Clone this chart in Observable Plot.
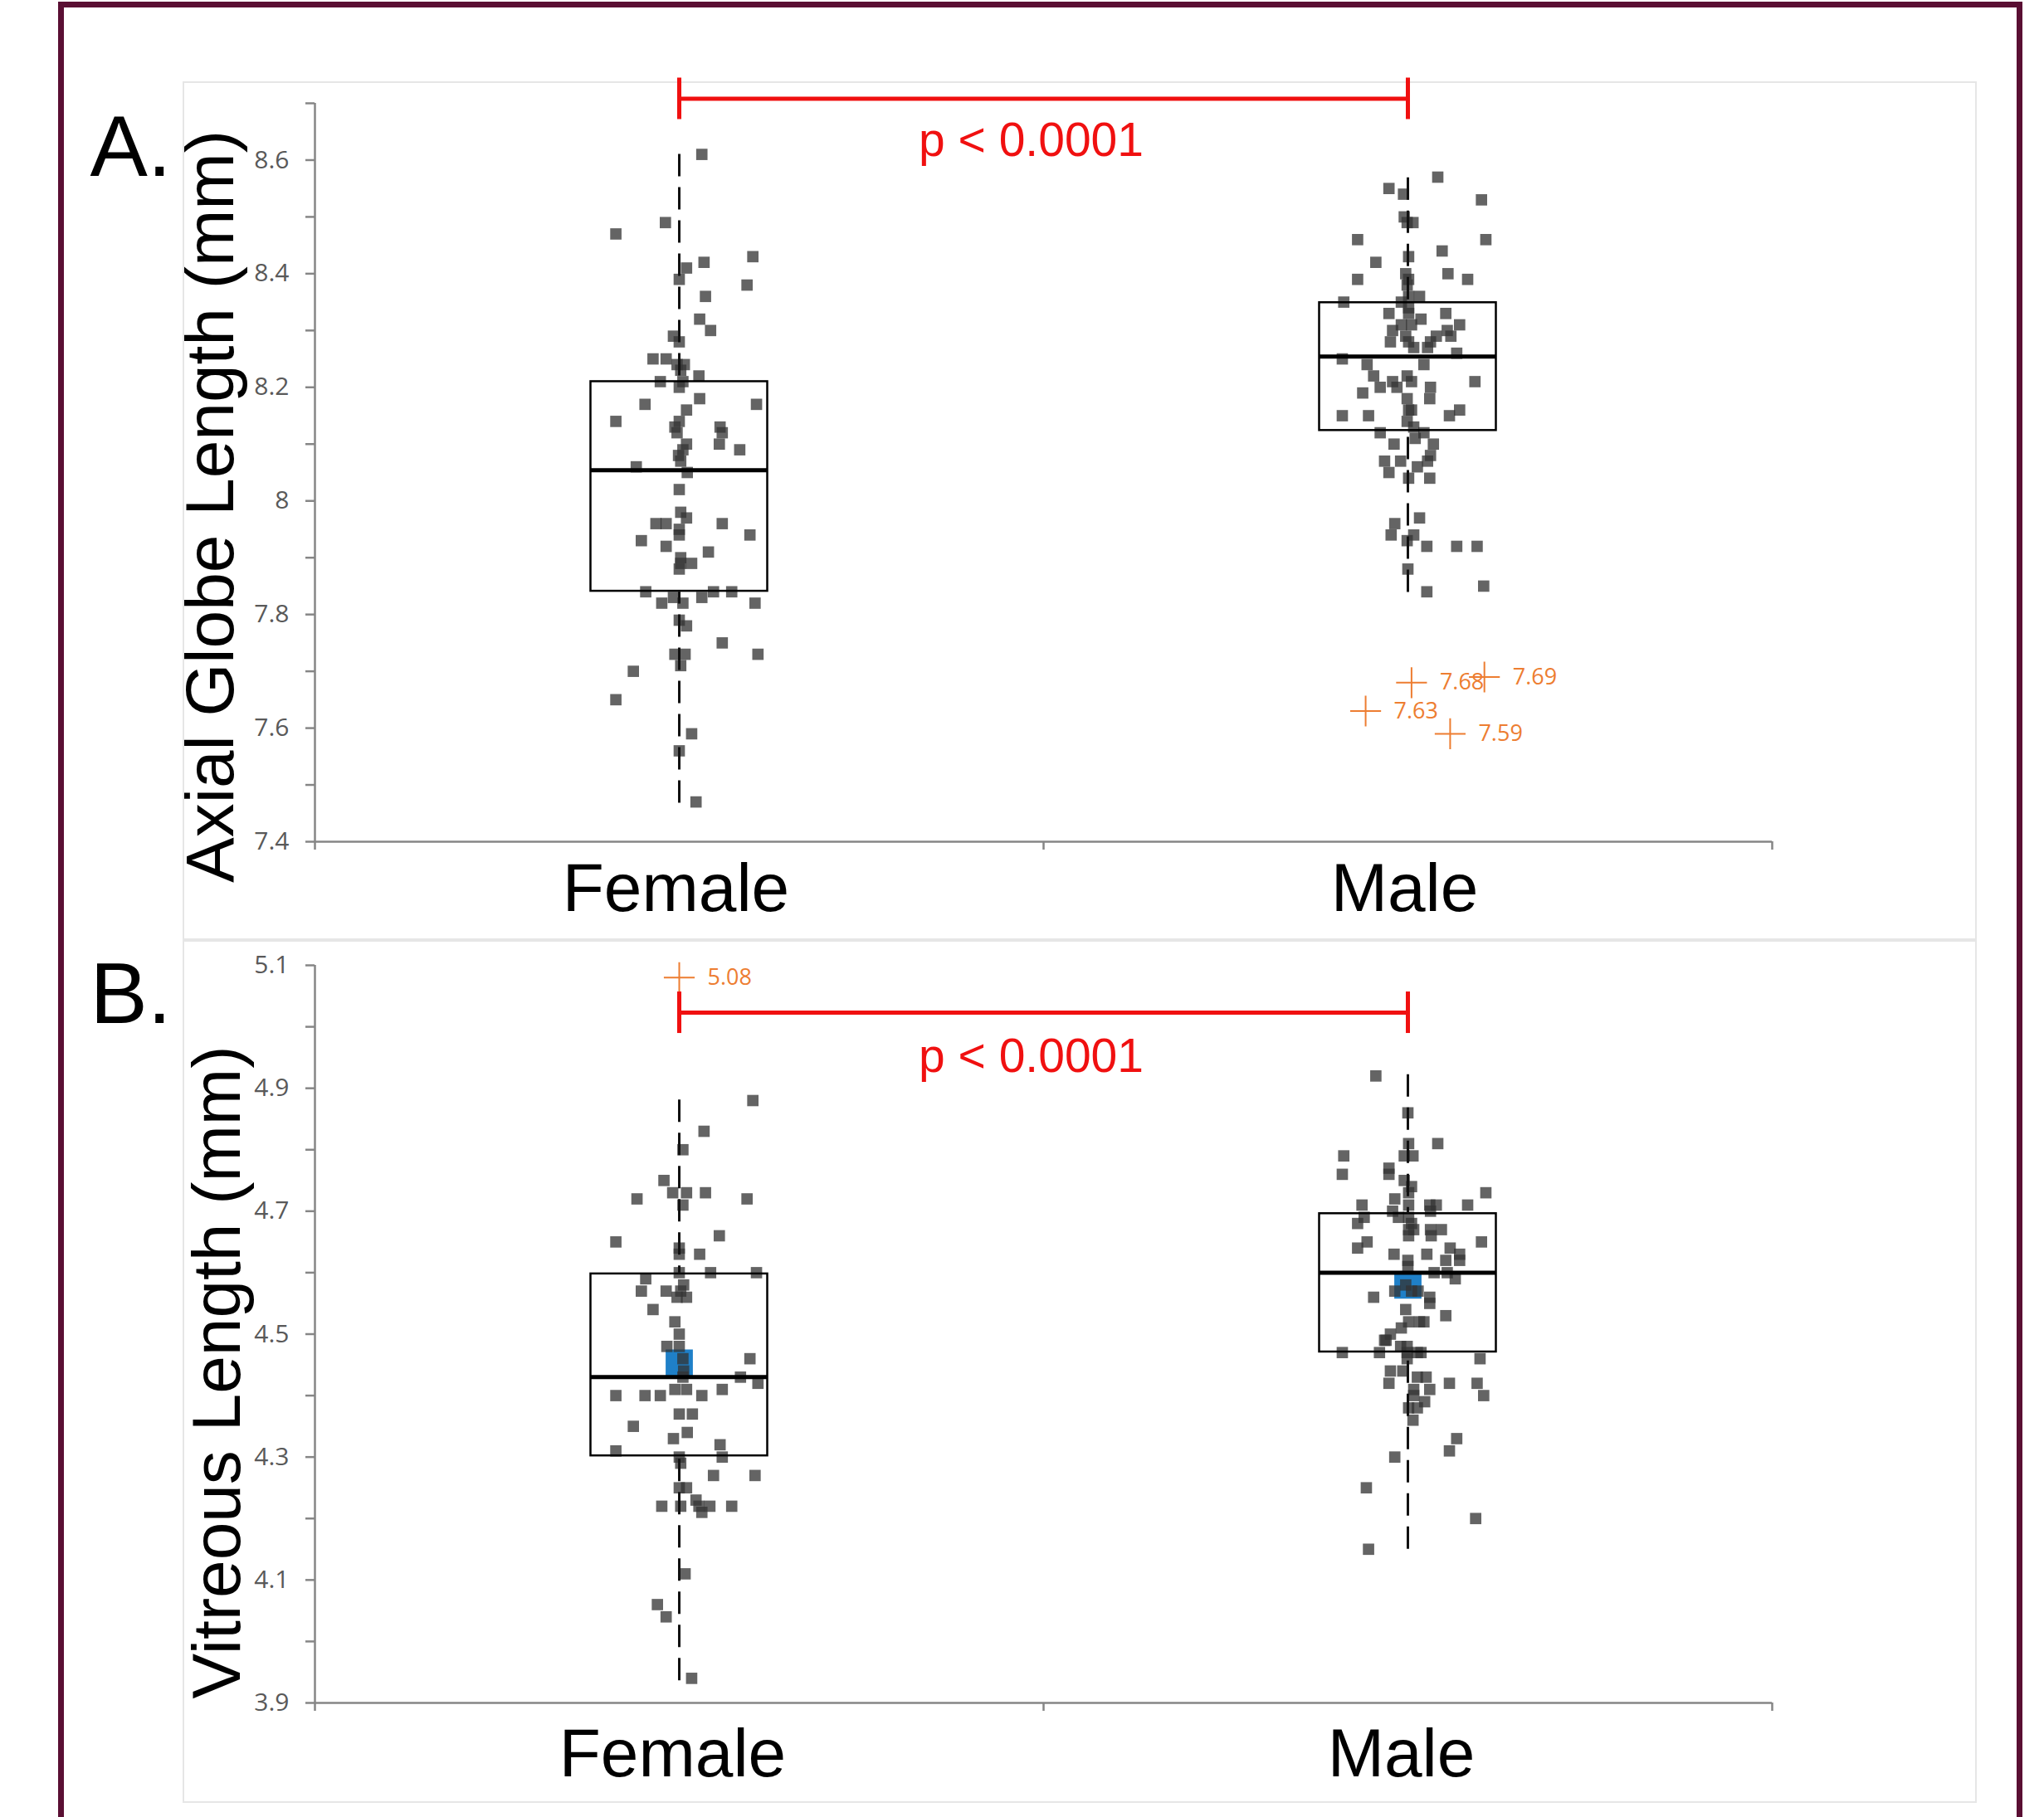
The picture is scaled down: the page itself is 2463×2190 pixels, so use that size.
<!DOCTYPE html>
<html>
<head>
<meta charset="utf-8">
<script src="https://cdn.jsdelivr.net/npm/d3@7"></script>
<script src="https://cdn.jsdelivr.net/npm/@observablehq/plot@0.6"></script>
<style>
html, body { margin: 0; padding: 0; background: #fff; }
#page { position: relative; width: 2463px; height: 2190px; overflow: hidden; background: #fff; }
#frame { position: absolute; left: 70px; top: 2px; width: 2353px; height: 2400px; border: 7px solid #5a0f33; pointer-events: none; }
.panelbox { position: absolute; left: 220px; width: 2162px; border: 2px solid #e6e6e6; box-sizing: border-box; pointer-events: none; }
.plotholder { position: absolute; left: 0; width: 2463px; }
.plotholder svg { display: block; }
</style>
</head>
<body>
<div id="page">
  <div class="panelbox" style="top:98px;height:1035px"></div>
  <div class="panelbox" style="top:1133px;height:1040px"></div>
  <div id="plotA" class="plotholder" style="top:0px"></div>
  <div id="plotB" class="plotholder" style="top:1133px"></div>
  <div id="frame"></div>
</div>
<script>
// ---------------- DATA ----------------
const categories = ["Female", "Male"];

// Panel A: Axial Globe Length (mm)
const titleA = "Axial Globe Length (mm)";
const panelLabelA = "A.";
const ticksA = [7.4, 7.5, 7.6, 7.7, 7.8, 7.9, 8.0, 8.1, 8.2, 8.3, 8.4, 8.5, 8.6, 8.7];
const tickLabelsA = [7.4, 7.6, 7.8, 8, 8.2, 8.4, 8.6];
const femaleAValues = [8.61,8.49,8.47,8.43,8.42,8.41,8.39,8.38,8.36,8.32,8.30,8.29,8.28,8.25,8.25,8.24,8.24,8.23,8.21,8.21,8.22,8.20,8.17,8.18,8.17,8.16,8.14,8.14,8.13,8.12,8.13,8.12,8.10,8.09,8.10,8.09,8.08,8.07,8.06,8.05,8.02,7.98,7.97,7.96,7.96,7.96,7.95,7.94,7.94,7.93,7.92,7.91,7.90,7.89,7.89,7.88,7.84,7.84,7.84,7.83,7.83,7.82,7.82,7.82,7.79,7.78,7.75,7.73,7.73,7.73,7.71,7.70,7.65,7.59,7.56,7.47];
// horizontal jitter, thousandths of a category band
const femaleAJitter = [31,-19,-87,101,34,10,0,93,36,28,43,-8,0,-36,-18,-3,7,2,-26,5,27,0,-47,28,106,10,-87,0,-6,-3,56,59,55,83,10,5,-1,2,-59,11,0,2,10,-32,-18,59,0,0,97,-52,-18,40,2,2,17,0,-46,47,72,-8,31,-24,5,104,0,10,59,-6,8,108,2,-63,-87,17,0,23];
const maleAValues = [8.57,8.55,8.54,8.53,8.50,8.49,8.49,8.46,8.46,8.44,8.43,8.42,8.39,8.40,8.39,8.40,8.39,8.38,8.36,8.36,8.35,8.35,8.34,8.33,8.33,8.33,8.32,8.31,8.31,8.31,8.30,8.29,8.30,8.29,8.29,8.28,8.28,8.28,8.27,8.27,8.26,8.25,8.24,8.24,8.22,8.21,8.22,8.21,8.21,8.20,8.20,8.20,8.19,8.18,8.18,8.16,8.16,8.15,8.15,8.15,8.16,8.14,8.13,8.12,8.11,8.12,8.10,8.10,8.08,8.07,8.07,8.07,8.06,8.05,8.04,8.04,7.97,7.96,7.94,7.94,7.93,7.92,7.92,7.92,7.88,7.84,7.85];
const maleAJitter = [41,-26,-6,101,-5,7,-1,-69,107,47,1,-44,-69,55,82,-3,1,-1,1,16,-88,-9,1,-26,52,1,18,5,-9,71,-21,-3,54,39,59,-24,1,31,27,8,67,-90,-56,22,-47,-21,-1,5,92,-38,-15,31,-62,30,-1,1,5,-90,-54,57,71,-1,8,-38,10,22,-19,35,31,-32,-10,27,13,-26,1,30,16,-18,-23,8,-1,26,67,95,0,26,104];
const boxQ1A = [7.841, 8.124];
const boxMedianA = [8.054, 8.254];
const boxQ3A = [8.210, 8.349];
const whiskerLoA = [7.468, 7.839];
const whiskerHiA = [8.610, 8.569];
const outlierValuesA = [7.68, 7.69, 7.63, 7.59];
const outlierCategoryA = ["Male", "Male", "Male", "Male"];
const outlierJitterA = [5, 105, -58, 58];
const meansA = [];
const bracketYA = 8.708;
const pTextA = "p < 0.0001";

// Panel B: Vitreous Length (mm)
const titleB = "Vitreous Length (mm)";
const panelLabelB = "B.";
const ticksB = [3.9, 4.0, 4.1, 4.2, 4.3, 4.4, 4.5, 4.6, 4.7, 4.8, 4.9, 5.0, 5.1];
const tickLabelsB = [3.9, 4.1, 4.3, 4.5, 4.7, 4.9, 5.1];
const femaleBValues = [4.88,4.83,4.80,4.75,4.73,4.73,4.73,4.72,4.72,4.71,4.66,4.65,4.64,4.63,4.63,4.60,4.60,4.60,4.59,4.58,4.57,4.57,4.57,4.56,4.56,4.54,4.52,4.50,4.48,4.48,4.46,4.46,4.44,4.43,4.43,4.42,4.40,4.40,4.40,4.41,4.41,4.40,4.41,4.37,4.37,4.35,4.34,4.33,4.32,4.31,4.30,4.30,4.29,4.27,4.27,4.25,4.25,4.22,4.22,4.23,4.22,4.22,4.21,4.22,4.11,4.06,4.04,3.94];
const femaleBJitter = [101,34,5,-21,-9,10,36,-58,93,5,55,-87,0,0,28,0,43,106,-46,6,-52,-18,2,-3,10,-36,-6,0,-17,0,97,5,6,84,5,108,-87,-47,-26,-6,10,31,59,0,18,-63,11,-8,56,-87,59,0,2,47,104,0,10,-24,2,23,27,42,31,72,8,-30,-18,17];
const maleBValues = [4.92,4.86,4.81,4.81,4.79,4.79,4.79,4.76,4.77,4.76,4.75,4.74,4.73,4.72,4.73,4.71,4.71,4.71,4.71,4.71,4.70,4.70,4.69,4.69,4.69,4.68,4.68,4.67,4.67,4.67,4.67,4.66,4.66,4.65,4.65,4.64,4.64,4.63,4.63,4.63,4.62,4.62,4.62,4.61,4.60,4.60,4.59,4.58,4.57,4.57,4.56,4.57,4.56,4.55,4.54,4.53,4.52,4.52,4.52,4.51,4.50,4.49,4.49,4.48,4.48,4.47,4.47,4.47,4.47,4.47,4.46,4.46,4.44,4.44,4.42,4.43,4.43,4.41,4.41,4.42,4.42,4.40,4.40,4.39,4.38,4.38,4.36,4.33,4.31,4.30,4.25,4.20,4.15];
const maleBJitter = [-44,0,1,41,-88,-5,7,-90,-26,-26,-5,5,107,-18,1,-63,1,30,39,82,-21,31,-60,-13,1,-69,5,1,31,46,8,1,32,-56,101,-69,58,-19,26,71,71,52,0,0,36,54,65,-3,-18,5,-47,14,30,30,-3,52,1,16,22,-9,-24,-30,-32,-10,-1,-1,13,18,-90,-39,-1,99,-24,-7,-26,13,25,30,8,57,95,104,8,23,1,13,7,67,57,-18,-57,93,-54];
const boxQ1B = [4.302, 4.471];
const boxMedianB = [4.430, 4.600];
const boxQ3B = [4.598, 4.696];
const whiskerLoB = [3.936, 4.150];
const whiskerHiB = [4.881, 4.922];
const outlierValuesB = [5.08];
const outlierCategoryB = ["Female"];
const outlierJitterB = [0];
const meansB = [4.453, 4.580];
const bracketYB = 5.023;
const pTextB = "p < 0.0001";

// ---------------- DRAWING ----------------
const W = 2463;
const FRAME_L = 379, FRAME_R = 2135;
const BOX_HALF = 0.1213;
const SANS = "'Liberation Sans', Arial, sans-serif";
const TICKFONT = "'Open Sans', 'Noto Sans', sans-serif";
const AXIS_GRAY = "#868686";
const RED = "#f01010";
const ORANGE = "#ED7D31";

function toPoints(values, jitter, ci) {
  return values.map((v, i) => ({x: ci + (jitter[i] ?? 0) / 1000, y: v}));
}

function panel(o) {
  const points = [...toPoints(o.fVals, o.fJit, 0), ...toPoints(o.mVals, o.mJit, 1)];
  const boxes = categories.map((c, i) => ({i, q1: o.q1[i], med: o.med[i], q3: o.q3[i], lo: o.lo[i], hi: o.hi[i]}));
  const outl = o.outVals.map((v, k) => ({x: categories.indexOf(o.outCat[k]) + o.outJit[k] / 1000, y: v, label: v.toFixed(2)}));
  const means = o.means.map((v, i) => ({x: i, y: v}));
  return Plot.plot({
    width: W,
    height: o.height,
    marginLeft: FRAME_L,
    marginRight: W - FRAME_R,
    marginTop: o.mt,
    marginBottom: o.mb,
    style: {background: "transparent", overflow: "visible", fontFamily: SANS},
    x: {domain: [-0.5, 1.5], axis: null},
    y: {domain: o.domain, axis: null},
    marks: [
      Plot.axisY({ticks: o.ticks, tickSize: 11, tickFormat: () => "", stroke: AXIS_GRAY, strokeWidth: 2.5, label: null}),
      Plot.axisY({ticks: o.tickLabels, tickSize: 0, tickPadding: 31, tickFormat: d => String(d), fontSize: 30, fontFamily: TICKFONT, color: "#595959", label: null}),
      Plot.axisX({ticks: [-0.5, 0.5, 1.5], tickSize: 10, tickFormat: () => "", stroke: AXIS_GRAY, strokeWidth: 2.5, label: null}),
      Plot.axisX({ticks: [0, 1], tickSize: 0, tickPadding: o.catPad, dx: o.catDx, tickFormat: d => categories[d], fontSize: 82, fontFamily: SANS, color: "#000", label: null}),
      Plot.ruleX([-0.5], {stroke: AXIS_GRAY, strokeWidth: 2.5}),
      Plot.ruleY([o.domain[0]], {stroke: AXIS_GRAY, strokeWidth: 2.5}),
      Plot.dot(means, {x: "x", y: "y", symbol: "square", r: 18.5, fill: "#1f80c8"}),
      Plot.dot(points, {x: "x", y: "y", symbol: "square", r: 7.7, fill: "#333333", fillOpacity: 0.76}),
      Plot.rect(boxes, {x1: d => d.i - BOX_HALF, x2: d => d.i + BOX_HALF, y1: "q1", y2: "q3", fill: "none", stroke: "#000", strokeWidth: 2.5}),
      Plot.ruleX(boxes, {x: "i", y1: "hi", y2: "q3", stroke: "#111", strokeWidth: 3, strokeDasharray: "27,13"}),
      Plot.ruleX(boxes, {x: "i", y1: "lo", y2: "q1", stroke: "#111", strokeWidth: 3, strokeDasharray: "27,13"}),
      Plot.ruleY(boxes, {y: "med", x1: d => d.i - BOX_HALF, x2: d => d.i + BOX_HALF, stroke: "#000", strokeWidth: 5}),
      Plot.dot(outl, {x: "x", y: "y", symbol: "plus", r: 12, stroke: ORANGE, strokeWidth: 2}),
      Plot.text(outl, {x: "x", y: "y", text: "label", textAnchor: "start", dx: 34, fontSize: 27, fill: ORANGE, fontFamily: TICKFONT}),
      Plot.ruleY([o.bracketY], {y: d => d, x1: () => 0, x2: () => 1, stroke: RED, strokeWidth: 5}),
      Plot.ruleX([0, 1], {x: d => d, y1: () => o.bracketY, y2: () => o.bracketY, insetTop: -25, insetBottom: -25, stroke: RED, strokeWidth: 5}),
      Plot.text([o.pText], {x: () => 0.5, y: () => o.bracketY, text: d => d, lineAnchor: "top", dy: o.pDy, dx: -15, fontSize: 57, fill: RED, fontFamily: SANS}),
      Plot.text([o.title], {frameAnchor: "left", text: d => d, rotate: -90, textAnchor: "middle", lineAnchor: "bottom", dx: o.titleDx, dy: o.titleDy, fontSize: 82, fill: "#000", fontFamily: SANS}),
      Plot.text([o.panelLabel], {frameAnchor: "top-left", text: d => d, textAnchor: "start", lineAnchor: "bottom", dx: -271, dy: o.labelDy, fontSize: 104, fill: "#000", fontFamily: SANS})
    ]
  });
}

document.getElementById("plotA").append(panel({
  height: 1133, mt: 124, mb: 119, domain: [7.4, 8.7], ticks: ticksA, tickLabels: tickLabelsA,
  fVals: femaleAValues, fJit: femaleAJitter, mVals: maleAValues, mJit: maleAJitter,
  q1: boxQ1A, med: boxMedianA, q3: boxQ3A, lo: whiskerLoA, hi: whiskerHiA,
  outVals: outlierValuesA, outCat: outlierCategoryA, outJit: outlierJitterA, means: meansA,
  bracketY: bracketYA, pText: pTextA, pDy: 28, title: titleA, titleDx: -99, titleDy: 41,
  panelLabel: panelLabelA, labelDy: 87, catPad: 25, catDx: -4
}));

document.getElementById("plotB").append(panel({
  height: 1057, mt: 30, mb: 138, domain: [3.9, 5.1], ticks: ticksB, tickLabels: tickLabelsB,
  fVals: femaleBValues, fJit: femaleBJitter, mVals: maleBValues, mJit: maleBJitter,
  q1: boxQ1B, med: boxMedianB, q3: boxQ3B, lo: whiskerLoB, hi: whiskerHiB,
  outVals: outlierValuesB, outCat: outlierCategoryB, outJit: outlierJitterB, means: meansB,
  bracketY: bracketYB, pText: pTextB, pDy: 31, title: titleB, titleDx: -91, titleDy: 46,
  panelLabel: panelLabelB, labelDy: 69, catPad: 30, catDx: -8
}));
</script>
</body>
</html>
